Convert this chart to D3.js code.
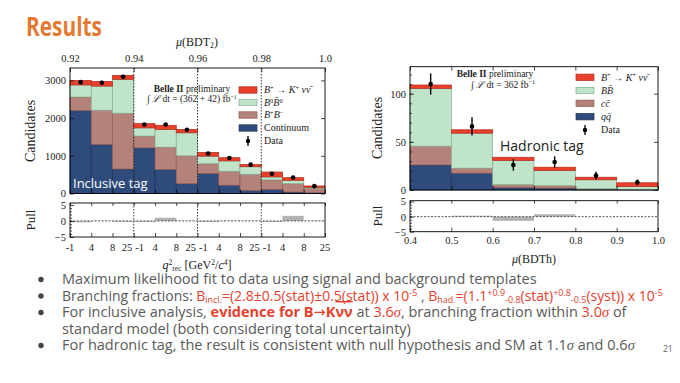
<!DOCTYPE html>
<html lang="en">
<head>
<meta charset="utf-8">
<title>Results</title>
<script src="https://d3js.org/d3.v7.min.js"></script>
<style>
  body { margin: 0; background: #fff; }
  svg text { font-family: "Liberation Serif", "DejaVu Serif", serif; }
  .sans { font-family: "Open Sans", "Noto Sans", sans-serif !important; }
</style>
</head>
<body>
<div id="chart"></div>
<script>
// ---- inclusive tag (left), 12 bins = 4 mu(BDT2) bins x 3 q2 bins ----
const qEdgeLabels = ["-1", "4", "8", "25"];
const bdt2Ticks = [0.92, 0.94, 0.96, 0.98, 1.0];
const inclCont = [2200, 1300, 650, 1210, 640, 260, 530, 220, 80, 110, 40, 20];
const inclBpBm = [360, 910, 1480, 315, 590, 740, 260, 370, 430, 250, 220, 120];
const inclB0B0 = [320, 640, 900, 215, 470, 610, 200, 275, 200, 80, 90, 25];
const inclSig = [120, 125, 105, 115, 110, 90, 100, 85, 60, 130, 70, 35];
const inclData = [2955, 2940, 3095, 1830, 1830, 1690, 1060, 940, 765, 525, 425, 195];
const inclErr = [54, 54, 56, 43, 43, 41, 33, 31, 28, 23, 21, 14];
const inclPull = [-0.4, 0.1, -0.3, -0.3, 1.0, 0.1, -0.3, 0.1, 0.1, -0.3, 1.6, 0.1];

// ---- hadronic tag (right) ----
const hadEdges = [0.4, 0.5, 0.6, 0.7, 0.8, 0.9, 1.0];
const hadQQ = [26, 17.5, 2.5, 2, 0.8, 0.2];
const hadCC = [19.5, 5.2, 3, 2.5, 0.5, 0.3];
const hadBB = [60, 36.3, 25.2, 15.8, 9.3, 3.1];
const hadSig = [3.5, 3.5, 3.3, 3.4, 2.7, 3.9];
const hadData = [110, 66, 26, 29, 15, 8];
const hadErr = [11, 9.5, 6, 6, 4, 3];
const hadPull = [0.05, 0.3, -1.4, 0.8, 0, 0];

const colors = {
  sig: ["#E8402A", "#B32C1B"],
  b0b0: ["#BFE4C9", "#86AE91"],
  bpbm: ["#B5817B", "#8C5C57"],
  cont: ["#2F4B7C", "#1F3358"]
};
const red = "#E5412D", gray = "#5A5A5A";

const W = 680, H = 383;
const svg = d3.select("#chart").append("svg")
    .attr("width", W).attr("height", H)
    .attr("viewBox", [0, 0, W, H]);
svg.append("rect").attr("width", W).attr("height", H).attr("fill", "#fff");

// title
svg.append("text").attr("class", "sans")
    .attr("x", 26).attr("y", 36)
    .attr("font-size", 27).attr("font-weight", 700)
    .attr("fill", "#E27A33")
    .attr("textLength", 76).attr("lengthAdjust", "spacingAndGlyphs")
    .text("Results");

// helper for text with sub/superscripts
function rich(sel, segs, baseSize) {
  let cur = 0;
  segs.forEach(s => {
    const target = s.s === "sup" ? -0.33 * baseSize : s.s === "sub" ? 0.2 * baseSize : 0;
    const ts = sel.append("tspan").text(s.t);
    if (target !== cur) ts.attr("dy", target - cur);
    if (s.s) ts.attr("font-size", baseSize * 0.64);
    if (s.dx) ts.attr("dx", s.dx);
    if (s.c) ts.attr("fill", s.c);
    if (s.it) ts.attr("font-style", "italic");
    if (s.b) ts.attr("font-weight", 700);
    if (s.ov) ts.attr("text-decoration", "overline");
    if (s.f) ts.attr("font-family", s.f);
    cur = target;
  });
  return sel;
}

function stackRects(g, layers, keys, x0, x1, y) {
  keys.forEach((k, li) => {
    g.append("g").selectAll("rect")
      .data(layers[li])
      .join("rect")
        .attr("x", (d, i) => x0(i))
        .attr("width", (d, i) => x1(i) - x0(i))
        .attr("y", d => y(d[1]))
        .attr("height", d => Math.max(0, y(d[0]) - y(d[1])))
        .attr("fill", colors[k][0])
        .attr("stroke", colors[k][1])
        .attr("stroke-width", 0.7);
  });
}

function drawData(g, xs, vals, errs, y) {
  g.append("g").selectAll("line")
    .data(vals).join("line")
      .attr("x1", (d, i) => xs(i)).attr("x2", (d, i) => xs(i))
      .attr("y1", (d, i) => y(d + errs[i])).attr("y2", (d, i) => y(d - errs[i]))
      .attr("stroke", "#000").attr("stroke-width", 1.4);
  g.append("g").selectAll("circle")
    .data(vals).join("circle")
      .attr("cx", (d, i) => xs(i)).attr("cy", d => y(d))
      .attr("r", 2.3).attr("fill", "#000");
}

function styleAxis(g, size) {
  g.select(".domain").remove();
  g.selectAll("text").attr("font-family", "Liberation Serif, serif").attr("font-size", size).attr("fill", "#222");
  g.selectAll("line").attr("stroke", "#000").attr("stroke-width", 0.7);
}

function legend(g, x, ys, entries) {
  entries.forEach((e, i) => {
    const row = g.append("g").attr("transform", `translate(${x},${ys[i]})`);
    if (e.key) {
      row.append("rect").attr("x", 0).attr("y", -3.2).attr("width", 18).attr("height", 6.4)
        .attr("fill", colors[e.key][0]).attr("stroke", colors[e.key][1]).attr("stroke-width", 0.7);
    } else {
      row.append("line").attr("x1", 9).attr("x2", 9).attr("y1", -5).attr("y2", 5)
        .attr("stroke", "#000").attr("stroke-width", 1.3);
      row.append("circle").attr("cx", 9).attr("cy", 0).attr("r", 2.2).attr("fill", "#000");
    }
    const t = row.append("text").attr("x", 25).attr("y", 3.4).attr("font-size", 10).attr("fill", "#222");
    rich(t, e.segs, 10);
  });
}

const sigSegs = [{t: "B", it: 1}, {t: "+", s: "sup"}, {t: " → "}, {t: "K", it: 1}, {t: "+", s: "sup"}, {t: " ν", it: 1}, {t: "ν̄", it: 1}];

// ================= LEFT: inclusive tag =================
const xL = d3.scaleLinear().domain([0, 12]).range([70, 325]);
const yL = d3.scaleLinear().domain([0, 3330]).range([193.5, 68]);
const pL = d3.scaleLinear().domain([-5, 5.6]).range([237, 203]);
const xTop = d3.scaleLinear().domain([0.92, 1.0]).range([70, 325]);

const rowsL = inclCont.map((v, i) => ({cont: v, bpbm: inclBpBm[i], b0b0: inclB0B0[i], sig: inclSig[i]}));
const keys = ["cont", "bpbm", "b0b0", "sig"];
const layersL = d3.stack().keys(keys)(rowsL);
const gL = svg.append("g");
stackRects(gL, layersL, keys, i => xL(i), i => xL(i + 1), yL);
drawData(gL, i => xL(i + 0.5), inclData, inclErr, yL);

// section separators
const seps = [3, 6, 9];
[[68, 193.5], [203, 237]].forEach(([a, b]) => {
  gL.append("g").selectAll("line").data(seps).join("line")
    .attr("x1", d => xL(d)).attr("x2", d => xL(d))
    .attr("y1", a).attr("y2", b)
    .attr("stroke", "#222").attr("stroke-width", 0.9).attr("stroke-dasharray", "1.5,1.5");
});

// left pull
gL.append("g").selectAll("rect").data(inclPull).join("rect")
  .attr("x", (d, i) => xL(i)).attr("width", xL(1) - xL(0))
  .attr("y", d => pL(Math.max(0, d)))
  .attr("height", d => Math.abs(pL(d) - pL(0)))
  .attr("fill", "#B3B3B3");
gL.append("line").attr("x1", 70).attr("x2", 325).attr("y1", pL(0)).attr("y2", pL(0))
  .attr("stroke", "#333").attr("stroke-width", 0.8).attr("stroke-dasharray", "2,1.5");

// frames
gL.append("rect").attr("x", 70).attr("y", 68).attr("width", 255).attr("height", 125.5)
  .attr("fill", "none").attr("stroke", "#000").attr("stroke-width", 0.9);
gL.append("rect").attr("x", 70).attr("y", 203).attr("width", 255).attr("height", 34)
  .attr("fill", "none").attr("stroke", "#000").attr("stroke-width", 0.9);

// axes
styleAxis(gL.append("g").attr("transform", "translate(70,0)")
  .call(d3.axisLeft(yL).tickValues([0, 1000, 2000, 3000]).tickSize(-4).tickPadding(4).tickFormat(d3.format("d"))), 10.5);
styleAxis(gL.append("g").attr("transform", "translate(325,0)")
  .call(d3.axisRight(yL).tickValues([0, 1000, 2000, 3000]).tickSize(-4).tickFormat("")), 10);
styleAxis(gL.append("g").attr("transform", "translate(0,68)")
  .call(d3.axisTop(xTop).tickValues(bdt2Ticks).tickSize(-4).tickPadding(6)
    .tickFormat(d => d === 1 ? "1.0" : d3.format(".2f")(d))), 10.5);
styleAxis(gL.append("g").attr("transform", "translate(0,193.5)")
  .call(d3.axisBottom(xL).tickValues(d3.range(13)).tickSize(-4).tickFormat("")), 10);
styleAxis(gL.append("g").attr("transform", "translate(0,237)")
  .call(d3.axisBottom(xL).tickValues(d3.range(13)).tickSize(-4).tickFormat("")), 10);
styleAxis(gL.append("g").attr("transform", "translate(0,203)")
  .call(d3.axisTop(xL).tickValues(d3.range(13)).tickSize(-3).tickFormat("")), 10);
styleAxis(gL.append("g").attr("transform", "translate(70,0)")
  .call(d3.axisLeft(pL).tickValues([-5, 0, 5]).tickSize(-4).tickPadding(4).tickFormat(d => d < 0 ? "−5" : d)), 10.5);
styleAxis(gL.append("g").attr("transform", "translate(70,0)")
  .call(d3.axisLeft(pL).tickValues(d3.range(-4, 5)).tickSize(-2).tickFormat("")), 10);

// bottom q2 labels
const qLabels = [];
for (let s = 0; s < 4; s++) {
  qEdgeLabels.forEach((lab, j) => {
    const pos = s * 3 + j;
    let anchor = "middle", dx = 0;
    if (j === 3 && pos < 12) { anchor = "end"; dx = -1.5; }
    if (j === 0 && pos > 0) { anchor = "start"; dx = 1.5; }
    qLabels.push({pos, lab, anchor, dx});
  });
}
gL.append("g").selectAll("text").data(qLabels).join("text")
  .attr("x", d => xL(d.pos) + d.dx).attr("y", 251)
  .attr("text-anchor", d => d.anchor)
  .attr("font-size", 10.5).attr("fill", "#222")
  .text(d => d.lab);

// axis titles
rich(gL.append("text").attr("x", 197).attr("y", 46).attr("text-anchor", "middle").attr("font-size", 12).attr("fill", "#222"),
  [{t: "μ", it: 1}, {t: "(BDT"}, {t: "2", s: "sub"}, {t: ")"}], 12);
rich(gL.append("text").attr("x", 197).attr("y", 269).attr("text-anchor", "middle").attr("font-size", 12).attr("fill", "#222"),
  [{t: "q", it: 1}, {t: "2", s: "sup"}, {t: "rec", s: "sub"}, {t: " [GeV"}, {t: "2", s: "sup"}, {t: "/"}, {t: "c", it: 1}, {t: "4", s: "sup"}, {t: "]"}], 12);
gL.append("text").attr("transform", "translate(35,131) rotate(-90)")
  .attr("text-anchor", "middle").attr("font-size", 14).attr("fill", "#222").text("Candidates");
gL.append("text").attr("transform", "translate(35,220) rotate(-90)")
  .attr("text-anchor", "middle").attr("font-size", 13).attr("fill", "#222").text("Pull");

// Belle II label
rich(gL.append("text").attr("x", 192).attr("y", 92).attr("text-anchor", "middle").attr("font-size", 9.5).attr("fill", "#222"),
  [{t: "Belle II", b: 1}, {t: " preliminary"}], 9.5);
rich(gL.append("text").attr("x", 192).attr("y", 102).attr("text-anchor", "middle").attr("font-size", 9.5).attr("fill", "#222"),
  [{t: "∫ "}, {t: "ℒ", it: 1}, {t: " dt = (362 + 42) fb"}, {t: "−1", s: "sup"}], 9.5);

legend(gL, 239, [90, 102.5, 115, 128, 141], [
  {key: "sig", segs: sigSegs},
  {key: "b0b0", segs: [{t: "B", it: 1}, {t: "0", s: "sup"}, {t: "B̄", it: 1}, {t: "0", s: "sup"}]},
  {key: "bpbm", segs: [{t: "B", it: 1}, {t: "+", s: "sup"}, {t: "B", it: 1}, {t: "−", s: "sup"}]},
  {key: "cont", segs: [{t: "Continuum"}]},
  {segs: [{t: "Data"}]}
]);

svg.append("text").attr("class", "sans").attr("x", 73).attr("y", 188)
  .attr("font-size", 13).attr("fill", "#fff").text("Inclusive tag");

// ================= RIGHT: hadronic tag =================
const xR = d3.scaleLinear().domain([0.4, 1.0]).range([410, 658]);
const yR = d3.scaleLinear().domain([0, 128]).range([190, 66.7]);
const pR = d3.scaleLinear().domain([-5, 5.3]).range([231.7, 200.7]);

const rowsR = hadQQ.map((v, i) => ({cont: v, bpbm: hadCC[i], b0b0: hadBB[i], sig: hadSig[i]}));
const layersR = d3.stack().keys(keys)(rowsR);
const gR = svg.append("g");
stackRects(gR, layersR, keys, i => xR(hadEdges[i]), i => xR(hadEdges[i + 1]), yR);
drawData(gR, i => xR((hadEdges[i] + hadEdges[i + 1]) / 2), hadData, hadErr, yR);

gR.append("g").selectAll("rect").data(hadPull).join("rect")
  .attr("x", (d, i) => xR(hadEdges[i])).attr("width", (d, i) => xR(hadEdges[i + 1]) - xR(hadEdges[i]))
  .attr("y", d => pR(Math.max(0, d)))
  .attr("height", d => Math.abs(pR(d) - pR(0)))
  .attr("fill", "#B3B3B3");
gR.append("line").attr("x1", 410).attr("x2", 658).attr("y1", pR(0)).attr("y2", pR(0))
  .attr("stroke", "#333").attr("stroke-width", 0.8).attr("stroke-dasharray", "2,1.5");

gR.append("rect").attr("x", 410).attr("y", 66.7).attr("width", 248).attr("height", 123.3)
  .attr("fill", "none").attr("stroke", "#000").attr("stroke-width", 0.9);
gR.append("rect").attr("x", 410).attr("y", 200.7).attr("width", 248).attr("height", 31)
  .attr("fill", "none").attr("stroke", "#000").attr("stroke-width", 0.9);

styleAxis(gR.append("g").attr("transform", "translate(410,0)")
  .call(d3.axisLeft(yR).tickValues([0, 50, 100]).tickSize(-4).tickPadding(4)), 10.5);
styleAxis(gR.append("g").attr("transform", "translate(410,0)")
  .call(d3.axisLeft(yR).tickValues(d3.range(10, 128, 10)).tickSize(-2).tickFormat("")), 10);
styleAxis(gR.append("g").attr("transform", "translate(658,0)")
  .call(d3.axisRight(yR).tickValues([0, 50, 100]).tickSize(-4).tickFormat("")), 10);
styleAxis(gR.append("g").attr("transform", "translate(0,190)")
  .call(d3.axisBottom(xR).tickValues(hadEdges).tickSize(-4).tickFormat("")), 10);
styleAxis(gR.append("g").attr("transform", "translate(0,66.7)")
  .call(d3.axisTop(xR).tickValues(hadEdges).tickSize(-4).tickFormat("")), 10);
styleAxis(gR.append("g").attr("transform", "translate(0,231.7)")
  .call(d3.axisBottom(xR).tickValues(hadEdges).tickSize(-4).tickPadding(5).tickFormat(d3.format(".1f"))), 10.5);
styleAxis(gR.append("g").attr("transform", "translate(0,200.7)")
  .call(d3.axisTop(xR).tickValues(hadEdges).tickSize(-3).tickFormat("")), 10);
styleAxis(gR.append("g").attr("transform", "translate(410,0)")
  .call(d3.axisLeft(pR).tickValues([-5, 0, 5]).tickSize(-4).tickPadding(4).tickFormat(d => d < 0 ? "−5" : d)), 10.5);
styleAxis(gR.append("g").attr("transform", "translate(410,0)")
  .call(d3.axisLeft(pR).tickValues(d3.range(-4, 5)).tickSize(-2).tickFormat("")), 10);

rich(gR.append("text").attr("x", 534).attr("y", 263).attr("text-anchor", "middle").attr("font-size", 12).attr("fill", "#222"),
  [{t: "μ", it: 1}, {t: "(BDTh)"}], 12);
gR.append("text").attr("transform", "translate(382,128) rotate(-90)")
  .attr("text-anchor", "middle").attr("font-size", 14).attr("fill", "#222").text("Candidates");
gR.append("text").attr("transform", "translate(382,216) rotate(-90)")
  .attr("text-anchor", "middle").attr("font-size", 13).attr("fill", "#222").text("Pull");

rich(gR.append("text").attr("x", 495).attr("y", 77).attr("text-anchor", "middle").attr("font-size", 9.5).attr("fill", "#222"),
  [{t: "Belle II", b: 1}, {t: " preliminary"}], 9.5);
rich(gR.append("text").attr("x", 503).attr("y", 87.5).attr("text-anchor", "middle").attr("font-size", 9.5).attr("fill", "#222"),
  [{t: "∫ "}, {t: "ℒ", it: 1}, {t: " dt = 362 fb"}, {t: "−1", s: "sup"}], 9.5);

legend(gR, 576, [77.3, 90.5, 103.3, 116.7, 130], [
  {key: "sig", segs: sigSegs},
  {key: "b0b0", segs: [{t: "B", it: 1}, {t: "B̄", it: 1}]},
  {key: "bpbm", segs: [{t: "c", it: 1}, {t: "c̄", it: 1}]},
  {key: "cont", segs: [{t: "q", it: 1}, {t: "q̄", it: 1}]},
  {segs: [{t: "Data"}]}
]);

svg.append("text").attr("class", "sans").attr("x", 500).attr("y", 151)
  .attr("font-size", 14).attr("fill", "#222").text("Hadronic tag");

// ================= bullets =================
const serif = "Liberation Serif, serif";
const bulletY = [284, 300.5, 317, 350];
const bulletSize = [14.5, 14, 14.5, 14.5];
const lines = [
  [{t: "Maximum likelihood fit to data using signal and background templates"}],
  [{t: "Branching fractions: "}, {t: "B", c: red}, {t: "incl.", c: red, s: "sub"}, {t: "=(2.8±0.5(stat)±0.5(stat)) x 10", c: red}, {t: "-5", c: red, s: "sup"},
   {t: " , "}, {t: "B", c: red}, {t: "had.", c: red, s: "sub"}, {t: "=(1.1", c: red}, {t: "+0.9", c: red, s: "sup"}, {t: "-0.8", c: red, s: "sub"},
   {t: "(stat)", c: red}, {t: "+0.8", c: red, s: "sup"}, {t: "-0.5", c: red, s: "sub"}, {t: "(syst)) x 10", c: red}, {t: "-5", c: red, s: "sup"}],
  [{t: "For inclusive analysis, "}, {t: "evidence for B", c: red, b: 1}, {t: "→", c: red, f: "DejaVu Sans, sans-serif"}, {t: "K", c: red, b: 1}, {t: "νν", c: red, b: 1, ov: 1},
   {t: " at "}, {t: "3.6", c: red}, {t: "σ", c: red, it: 1, f: serif},
   {t: ",  branching fraction within "}, {t: "3.0", c: red}, {t: "σ", c: red, it: 1, f: serif}, {t: "  of"}],
  [{t: "For hadronic tag, the result is consistent with null hypothesis and SM at 1.1"}, {t: "σ", it: 1, f: serif}, {t: " and 0.6"}, {t: "σ", it: 1, f: serif}]
];
const gB = svg.append("g");
gB.selectAll("circle").data(bulletY).join("circle")
  .attr("cx", 41).attr("cy", d => d - 4.5).attr("r", 2.7).attr("fill", "#444");
lines.forEach((segs, i) => {
  const t = gB.append("text").attr("class", "sans").attr("x", 62).attr("y", bulletY[i])
    .attr("font-size", bulletSize[i]).attr("fill", gray);
  rich(t, segs, bulletSize[i]);
});
gB.append("text").attr("class", "sans").attr("x", 62).attr("y", 333.5)
  .attr("font-size", 14.5).attr("fill", gray).text("standard model (both considering total uncertainty)");
gB.append("text").attr("class", "sans").attr("x", 663).attr("y", 352)
  .attr("font-size", 8.5).attr("fill", "#666").text("21");
</script>
</body>
</html>
